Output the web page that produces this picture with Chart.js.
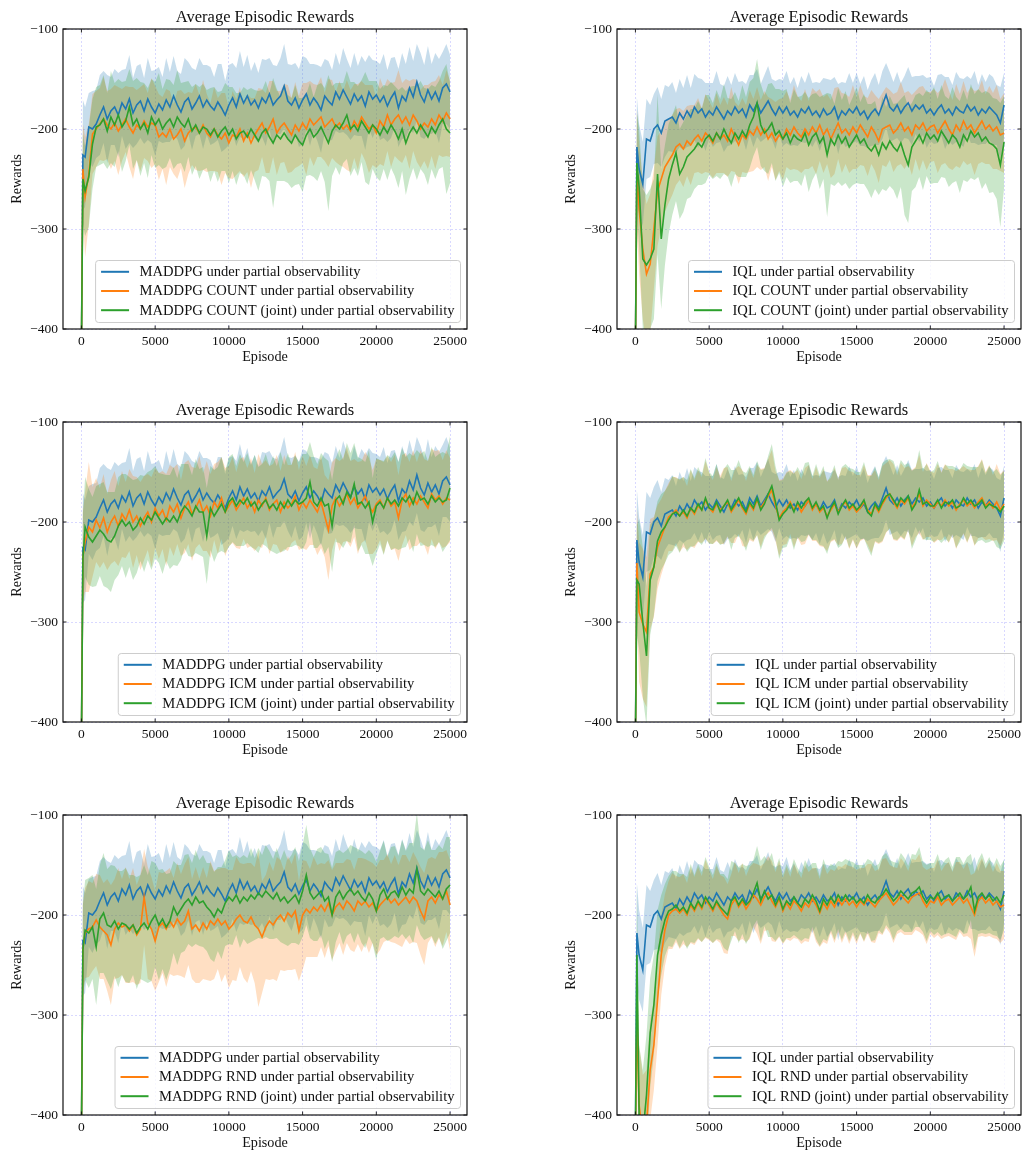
<!DOCTYPE html>
<html><head><meta charset="utf-8">
<script src="https://cdn.jsdelivr.net/npm/chart.js@4.4.1/dist/chart.umd.min.js"></script>
<style>
html,body{margin:0;padding:0;background:#fff;width:1023px;height:1151px;overflow:hidden;position:relative}
</style></head><body>
<script>
// ---------------- DATA ----------------
const EPISODES = [0,100,
 250,500,750,1000,1250,1500,1750,2000,2250,2500,2750,3000,3250,3500,3750,4000,4250,4500,4750,5000,
 5250,5500,5750,6000,6250,6500,6750,7000,7250,7500,7750,8000,8250,8500,8750,9000,9250,9500,9750,10000,
 10250,10500,10750,11000,11250,11500,11750,12000,12250,12500,12750,13000,13250,13500,13750,14000,14250,14500,14750,15000,
 15250,15500,15750,16000,16250,16500,16750,17000,17250,17500,17750,18000,18250,18500,18750,19000,19250,19500,19750,20000,
 20250,20500,20750,21000,21250,21500,21750,22000,22250,22500,22750,23000,23250,23500,23750,24000,24250,24500,24750,25000];
const X_TICKS = [0,5000,10000,15000,20000,25000];
const Y_TICKS = [-400,-300,-200,-100];
const CHART_TITLE = 'Average Episodic Rewards';
const X_LABEL = 'Episode';
const Y_LABEL = 'Rewards';

// MADDPG baseline (same in left panels)
const MADDPG = [-420,-226,
 -228,-198,-200,-195, -186,-178,-190,-182, -178,-186,-174,-180, -170,-184,-176,-172, -182,-170,-178,-184,
 -175,-181,-171,-178, -167,-176,-183,-173, -169,-180,-174,-167, -178,-171,-177,-181, -173,-179,-186,-176,
 -169,-178,-165,-174, -167,-176,-171,-179, -169,-174,-165,-176, -171,-167,-157,-172, -176,-169,-179,-171,
 -165,-176,-169,-174, -181,-167,-172,-176, -163,-170,-161,-168, -175,-165,-172,-167, -177,-163,-170,-166,
 -173,-167,-177,-169, -163,-179,-167,-172, -159,-168,-153,-166, -173,-161,-170,-163, -172,-159,-155,-163];
const MADDPG_SD = [15,55,
 50,34,38,34, 40,36,44,34, 38,42,33,40, 44,35,39,37, 33,41,36,43,
 37,33,42,35, 40,34,38,44, 36,41,33,38, 42,35,39,33, 38,44,34,40,
 35,39,43,36, 41,34,38,35, 39,43,36,40, 34,38,42,37, 40,35,39,44,
 36,41,34,38, 43,37,40,35, 39,34,42,38, 36,41,35,40, 44,37,39,34,
 38,42,36,40, 35,39,43,37, 41,36,38,42, 37,44,35,39, 42,36,40,37];

const MADDPG_COUNT = [-420,-240,
 -268,-245,-205,-200, -195,-190,-196,-200, -194,-202,-196,-190, -198,-204,-196,-200, -192,-198,-194,-196,
 -208,-204,-208,-200, -210,-206,-200,-212, -204,-200,-198,-204, -196,-204,-208,-200, -206,-210,-204,-214,
 -206,-208,-200,-212, -204,-214,-206,-200, -194,-204,-198,-190, -204,-198,-194,-200, -206,-196,-202,-194,
 -200,-190,-196,-192, -188,-198,-194,-190, -198,-194,-200,-196, -202,-192,-198,-188, -194,-200,-196,-204,
 -192,-198,-186,-196, -190,-186,-194,-188, -196,-186,-192,-200, -194,-198,-190,-196, -186,-192,-184,-190];
const MADDPG_COUNT_SD = [15,45,
 60,50,40,38, 36,42,34,40, 38,44,36,33, 40,46,35,42, 37,34,45,39,
 43,36,48,38, 35,44,39,47, 41,36,43,38, 45,39,34,42, 37,46,40,35,
 44,38,42,36, 39,45,37,41, 34,40,46,38, 42,36,39,44, 37,43,35,40,
 46,38,41,36, 40,34,44,39, 35,42,38,45, 41,37,43,36, 38,44,40,35,
 43,39,36,42, 37,45,40,38, 44,36,41,39, 38,42,37,44, 40,36,43,38];

const MADDPG_COUNT_J = [-420,-250,
 -262,-248,-215,-198, -196,-190,-202,-188, -196,-186,-198,-192, -178,-196,-190,-200, -194,-204,-188,-196,
 -190,-200,-194,-190, -198,-188,-194,-198, -190,-202,-196,-204, -198,-200,-206,-200, -208,-202,-198,-206,
 -200,-210,-204,-202, -208,-200,-206,-212, -204,-200,-208,-214, -206,-210,-204,-210, -214,-206,-212,-216,
 -206,-200,-208,-204, -198,-206,-214,-202, -196,-200,-194,-186, -200,-196,-202,-192, -198,-204,-196,-200,
 -206,-198,-204,-196, -202,-210,-200,-214, -204,-198,-204,-196, -202,-208,-198,-204, -196,-190,-200,-204];
const MADDPG_COUNT_J_SD = [15,45,
 45,50,45,40, 40,44,38,46, 42,36,45,40, 38,44,41,47, 40,45,38,43,
 46,40,44,39, 42,47,40,45, 38,44,41,46, 43,39,47,42, 45,40,44,48,
 42,46,40,44, 47,41,45,50, 43,48,44,65, 46,42,48,44, 45,50,43,47,
 41,46,40,48, 44,47,68,45, 42,46,40,44, 47,43,45,41, 55,52,44,48,
 46,42,47,43, 45,49,42,52, 46,41,47,44, 43,48,42,46, 44,48,65,50];

// IQL baseline (same in right panels)
const IQL = [-420,-218,
 -240,-255,-210,-212, -200,-196,-204,-192, -190,-188,-194,-184, -190,-182,-188,-178, -184,-180,-188,-182,
 -186,-178,-184,-190, -182,-186,-178,-184, -180,-188,-176,-182, -174,-184,-178,-172, -180,-186,-178,-184,
 -178,-186,-182,-188, -180,-184,-178,-186, -182,-188,-180,-186, -184,-178,-190,-182, -186,-180,-184,-178,
 -186,-182,-190,-184, -180,-186,-176,-166, -178,-182,-176,-184, -178,-174,-182,-176, -180,-176,-184,-180,
 -186,-180,-176,-184, -180,-186,-178,-182, -184,-176,-182,-178, -186,-180,-184,-178, -182,-186,-194,-176];
const IQL_SD = [15,50,
 45,42,40,36, 35,38,34,36, 32,35,30,34, 31,36,29,33, 35,30,34,28,
 32,36,29,33, 35,30,34,31, 28,33,30,36, 34,29,32,35, 30,34,28,33,
 36,31,34,29, 33,30,35,32, 29,34,31,36, 33,30,35,29, 32,36,30,34,
 31,35,29,33, 36,30,34,32, 35,29,33,30, 31,36,34,29, 33,30,35,32,
 29,34,31,36, 32,30,35,33, 34,29,32,36, 30,35,31,33, 34,30,36,32];

const IQL_COUNT = [-420,-240,
 -280,-320,-345,-335, -300,-262,-250,-238, -232,-226,-218,-215, -220,-212,-216,-210, -206,-212,-204,-208,
 -214,-204,-210,-206, -212,-200,-208,-216, -206,-210,-202,-206, -198,-206,-200,-210, -204,-212,-206,-210,
 -200,-206,-198,-204, -208,-200,-206,-198, -204,-196,-206,-200, -210,-202,-194,-204, -200,-206,-198,-204,
 -196,-202,-208,-198, -204,-212,-200,-198, -196,-204,-200,-194, -202,-198,-206,-196, -200,-194,-202,-198,
 -196,-204,-198,-192, -200,-206,-196,-202, -192,-200,-196,-204, -198,-192,-200,-196, -202,-198,-206,-204];
const IQL_COUNT_SD = [20,60,
 65,70,70,70, 60,55,48,45, 42,40,38,36, 38,35,40,34, 37,33,39,36,
 35,40,34,38, 36,42,35,39, 37,34,41,36, 40,35,38,42, 34,39,36,41,
 38,35,42,37, 36,40,34,39, 41,36,38,35, 39,43,36,40, 35,38,42,36,
 40,35,39,37, 38,42,36,40, 35,39,37,41, 38,36,40,34, 42,37,39,35,
 36,40,38,42, 39,35,41,37, 40,36,38,42, 37,41,35,39, 38,42,36,40];

const IQL_COUNT_J = [-420,-234,
 -258,-330,-336,-330, -320,-245,-310,-276, -250,-236,-224,-245, -238,-228,-224,-220, -214,-218,-210,-206,
 -212,-204,-210,-200, -208,-214,-204,-210, -202,-208,-196,-188, -174,-196,-204,-200, -194,-206,-202,-210,
 -204,-214,-206,-210, -212,-204,-216,-208, -204,-214,-208,-226, -210,-216,-206,-214, -208,-218,-212,-206,
 -214,-210,-218,-222, -216,-226,-214,-220, -212,-218,-222,-214, -226,-236,-218,-212, -206,-214,-204,-210,
 -206,-212,-202,-208, -214,-206,-210,-218, -206,-212,-202,-208, -204,-212,-208,-214, -216,-220,-236,-213];
const IQL_COUNT_J_SD = [20,50,
 60,70,70,70, 70,80,70,60, 55,50,48,45, 45,42,44,40, 42,38,44,40,
 38,43,40,45, 39,44,41,38, 46,40,43,39, 44,41,38,45, 40,46,42,48,
 44,40,46,42, 45,41,47,43, 40,46,42,62, 45,41,47,43, 46,42,44,48,
 41,45,43,47, 44,40,46,42, 45,43,48,44, 60,58,44,46, 42,47,43,45,
 48,42,46,41, 44,48,42,46, 45,41,47,43, 44,48,46,50, 47,50,62,46];

const MADDPG_ICM = [-420,-235,
 -220,-205,-210,-198, -206,-196,-210,-200, -194,-204,-192,-198, -188,-200,-194,-204, -196,-190,-200,-186,
 -194,-188,-198,-184, -190,-182,-196,-186, -180,-192,-186,-178, -190,-184,-194,-180, -186,-176,-190,-184,
 -178,-188,-182,-176, -186,-180,-190,-178, -184,-176,-188,-182, -178,-190,-180,-186, -182,-174,-188,-180,
 -186,-178,-184,-190, -180,-194,-208,-184, -176,-184,-178,-172, -182,-176,-186,-180, -174,-184,-190,-182,
 -178,-186,-176,-184, -180,-196,-178,-172, -184,-176,-182,-174, -180,-186,-172,-178, -174,-182,-176,-178];
const MADDPG_ICM_SD = [15,45,
 50,65,45,42, 40,44,38,42, 45,40,43,38, 41,46,39,44, 42,38,45,40,
 43,39,46,41, 44,40,38,45, 42,47,40,44, 39,45,42,38, 46,41,44,40,
 43,38,45,41, 40,44,39,46, 42,38,44,40, 45,41,47,43, 39,44,40,46,
 42,45,39,43, 46,41,50,44, 40,45,42,47, 43,39,46,41, 44,48,42,45,
 40,46,42,44, 47,43,45,41, 44,48,42,46, 43,47,45,49, 46,44,48,42];

const MADDPG_ICM_J = [-420,-237,
 -205,-215,-220,-214, -208,-212,-218,-220, -214,-204,-198,-204, -200,-208,-204,-196, -202,-194,-198,-190,
 -196,-202,-196,-200, -194,-200,-190,-184, -188,-194,-184,-190, -190,-214,-186,-194, -188,-182,-190,-180,
 -176,-184,-178,-182, -176,-184,-180,-188, -182,-178,-186,-182, -188,-180,-186,-178, -184,-178,-182,-180,
 -176,-160,-180,-184, -176,-184,-182,-204, -178,-174,-182,-170, -176,-162,-182,-180, -186,-180,-200,-184,
 -180,-186,-176,-182, -178,-184,-176,-180, -174,-182,-170,-178, -176,-182,-174,-180, -176,-180,-178,-166];
const MADDPG_ICM_J_SD = [15,45,
 50,48,45,50, 46,52,48,50, 44,49,46,52, 45,50,47,43, 48,44,50,46,
 45,50,43,47, 49,44,48,42, 46,41,47,43, 45,48,42,46, 43,47,41,45,
 44,40,46,42, 45,41,47,43, 40,46,42,48, 44,50,43,47, 41,45,42,48,
 44,40,46,42, 45,48,43,46, 42,47,44,49, 45,41,47,43, 46,52,44,48,
 42,47,43,46, 48,44,50,45, 43,48,42,46, 47,43,49,45, 44,50,46,52];

const IQL_ICM = [-420,-241,
 -290,-302,-310,-252, -245,-225,-215,-205, -195,-192,-188,-194, -190,-196,-186,-192, -184,-188,-178,-186,
 -190,-182,-188,-184, -180,-190,-184,-178, -186,-192,-182,-188, -178,-186,-180,-174, -168,-184,-196,-190,
 -186,-180,-188,-182, -190,-184,-178,-188, -182,-190,-186,-194, -188,-182,-190,-184, -180,-188,-184,-190,
 -186,-180,-188,-192, -184,-190,-182,-176, -172,-180,-186,-178, -182,-176,-186,-180, -172,-184,-178,-182,
 -186,-180,-184,-178, -184,-180,-188,-182, -178,-184,-180,-186, -180,-176,-184,-180, -186,-180,-188,-182];
const IQL_ICM_SD = [20,55,
 70,75,75,55, 50,42,38,36, 34,37,33,36, 35,32,38,34, 36,33,39,35,
 32,37,34,38, 35,31,37,34, 38,33,36,32, 35,39,34,37, 40,35,38,33,
 36,32,37,34, 33,38,35,31, 37,34,39,35, 32,36,33,38, 35,39,34,37,
 33,37,35,39, 36,32,38,35, 34,38,33,37, 36,32,38,35, 39,34,37,33,
 35,38,34,36, 37,33,39,35, 34,37,32,38, 36,39,34,37, 33,38,36,34];

const IQL_ICM_J = [-420,-258,
 -262,-300,-334,-258, -245,-219,-210,-205, -198,-192,-190,-194, -188,-194,-186,-190, -182,-188,-176,-186,
 -188,-180,-190,-184, -178,-188,-182,-176, -184,-190,-180,-186, -176,-188,-182,-172, -164,-180,-198,-192,
 -188,-182,-190,-180, -186,-180,-176,-186, -180,-188,-184,-196, -186,-180,-192,-184, -178,-186,-182,-188,
 -184,-178,-190,-194, -182,-188,-180,-174, -172,-178,-184,-176, -180,-174,-188,-182, -168,-182,-180,-184,
 -184,-178,-186,-180, -182,-178,-186,-184, -176,-182,-178,-184, -182,-178,-186,-182, -184,-186,-190,-184];
const IQL_ICM_J_SD = [20,55,
 65,75,70,55, 48,40,38,36, 35,38,34,37, 33,36,39,34, 37,35,40,36,
 34,38,33,37, 36,40,34,38, 35,39,36,33, 37,40,35,38, 42,36,39,34,
 37,33,38,35, 34,39,36,32, 38,35,40,36, 33,37,34,39, 36,40,35,38,
 34,38,36,40, 37,33,39,36, 35,39,34,38, 37,33,39,36, 40,35,38,34,
 36,39,35,37, 38,34,40,36, 35,38,33,39, 37,40,35,38, 34,39,37,35];

const MADDPG_RND = [-420,-234,
 -218,-214,-212,-205, -212,-216,-220,-230, -214,-208,-212,-210, -216,-210,-220,-214, -182,-208,-214,-226,
 -212,-208,-214,-206, -212,-204,-210,-206, -196,-214,-210,-216, -208,-214,-206,-210, -204,-210,-206,-214,
 -210,-204,-200,-206, -208,-202,-210,-214, -222,-212,-206,-210, -204,-200,-206,-198, -202,-196,-216,-200,
 -194,-198,-192,-196, -190,-196,-188,-200, -192,-188,-194,-186, -190,-196,-186,-190, -186,-192,-188,-196,
 -190,-186,-182,-188, -184,-190,-186,-182, -188,-182,-186,-196, -204,-186,-182,-188, -180,-184,-176,-190];
const MADDPG_RND_SD = [15,45,
 45,48,44,46, 52,48,56,60, 50,55,48,58, 52,57,50,54, 48,56,52,50,
 55,50,58,53, 49,56,51,57, 54,50,58,52, 56,51,60,54, 50,57,53,59,
 55,62,52,57, 60,54,58,78, 56,52,59,54, 62,55,50,57, 53,58,50,55,
 48,44,50,46, 42,47,43,45, 44,40,46,42, 45,41,43,47, 42,46,40,44,
 45,41,43,39, 44,40,46,42, 41,45,42,44, 46,42,40,44, 43,47,41,45];

const MADDPG_RND_J = [-420,-235,
 -215,-218,-212,-232, -204,-198,-210,-212, -206,-214,-208,-210, -214,-210,-218,-212, -208,-214,-206,-200,
 -210,-204,-212,-206, -192,-200,-194,-188, -184,-190,-182,-188, -186,-192,-196,-202, -194,-198,-188,-182,
 -186,-180,-188,-182, -186,-180,-184,-178, -182,-176,-180,-184, -178,-186,-182,-188, -184,-180,-188,-176,
 -160,-178,-184,-180, -176,-186,-182,-200, -182,-176,-184,-178, -174,-180,-176,-182, -186,-178,-184,-196,
 -180,-174,-184,-178, -176,-182,-172,-180, -174,-178,-154,-176, -180,-174,-178,-182, -176,-184,-174,-170];
const MADDPG_RND_J_SD = [15,45,
 50,55,52,58, 54,60,56,62, 55,58,52,57, 54,50,56,52, 58,54,60,52,
 55,50,53,48, 46,50,44,48, 45,42,47,43, 46,44,48,45, 42,46,43,47,
 44,40,45,42, 43,47,41,45, 42,46,44,40, 45,41,47,43, 44,48,42,46,
 50,45,42,46, 44,48,43,47, 45,41,46,43, 44,48,42,46, 47,43,45,49,
 44,48,42,46, 45,41,47,44, 46,50,56,44, 45,49,43,47, 46,50,52,48];

const IQL_RND = [-420,-305,
 -390,-420,-410,-355, -330,-285,-240,-215, -200,-196,-194,-198, -194,-200,-190,-196, -188,-194,-184,-190,
 -196,-188,-194,-200, -204,-190,-184,-192, -186,-194,-188,-180, -184,-190,-182,-178, -186,-192,-184,-196,
 -188,-194,-186,-190, -196,-188,-192,-184, -190,-198,-188,-194, -186,-192,-184,-190, -184,-190,-186,-192,
 -186,-190,-184,-188, -192,-186,-182,-178, -184,-190,-186,-180, -184,-188,-182,-180, -178,-186,-192,-186,
 -188,-182,-190,-186, -184,-190,-186,-182, -188,-184,-192,-200, -186,-182,-188,-184, -190,-186,-192,-190];
const IQL_RND_SD = [20,60,
 60,60,55,50, 45,45,40,36, 34,38,33,36, 35,32,38,34, 36,33,39,35,
 32,37,34,38, 35,31,37,34, 38,33,36,32, 35,39,34,37, 40,35,38,33,
 36,32,37,34, 33,38,35,31, 37,34,39,35, 32,36,33,38, 35,39,34,37,
 33,37,35,39, 36,32,38,35, 34,38,33,37, 36,32,38,35, 39,34,37,33,
 35,38,34,36, 37,33,39,35, 34,37,32,42, 36,39,34,37, 33,38,36,34];

const IQL_RND_J = [-420,-240,
 -400,-420,-380,-318, -290,-240,-220,-205, -196,-194,-190,-196, -192,-198,-188,-194, -186,-192,-182,-188,
 -194,-186,-192,-196, -200,-186,-182,-190, -184,-190,-186,-178, -168,-186,-176,-184, -180,-190,-182,-194,
 -186,-190,-182,-188, -192,-184,-188,-180, -186,-196,-184,-190, -182,-188,-180,-186, -180,-186,-182,-188,
 -184,-188,-180,-186, -188,-182,-180,-174, -180,-186,-182,-176, -180,-184,-178,-176, -172,-182,-188,-182,
 -184,-178,-186,-182, -180,-186,-182,-178, -184,-180,-172,-196, -182,-178,-184,-180, -186,-182,-188,-180];
const IQL_RND_J_SD = [20,70,
 70,65,60,55, 50,45,40,36, 35,38,34,37, 33,36,39,34, 37,35,40,36,
 34,38,33,37, 36,40,34,38, 35,39,36,33, 37,40,35,38, 42,36,39,34,
 37,33,38,35, 34,39,36,32, 38,35,40,36, 33,37,34,39, 36,40,35,38,
 34,38,36,40, 37,33,39,36, 35,39,34,38, 37,33,39,36, 40,35,38,34,
 36,39,35,37, 38,34,40,36, 35,38,33,39, 37,40,35,38, 34,39,37,35];

const LABELS_MADDPG_COUNT = ['MADDPG under partial observability','MADDPG COUNT under partial observability','MADDPG COUNT (joint) under partial observability'];
const LABELS_IQL_COUNT = ['IQL under partial observability','IQL COUNT under partial observability','IQL COUNT (joint) under partial observability'];
const LABELS_MADDPG_ICM = ['MADDPG under partial observability','MADDPG ICM under partial observability','MADDPG ICM (joint) under partial observability'];
const LABELS_IQL_ICM = ['IQL under partial observability','IQL ICM under partial observability','IQL ICM (joint) under partial observability'];
const LABELS_MADDPG_RND = ['MADDPG under partial observability','MADDPG RND under partial observability','MADDPG RND (joint) under partial observability'];
const LABELS_IQL_RND = ['IQL under partial observability','IQL RND under partial observability','IQL RND (joint) under partial observability'];

// ---------------- RENDER ----------------
const COLORS = ['#1f77b4','#ff7f0e','#2ca02c'];
const BANDS = ['rgba(31,119,180,0.25)','rgba(255,127,14,0.25)','rgba(44,160,44,0.25)'];
const FONT = "'Liberation Serif','Times New Roman',serif";
const GRID = 'rgba(110,110,255,0.32)';

const PANELS = [
  {col:0,row:0,labels:LABELS_MADDPG_COUNT,series:[[MADDPG,MADDPG_SD],[MADDPG_COUNT,MADDPG_COUNT_SD],[MADDPG_COUNT_J,MADDPG_COUNT_J_SD]]},
  {col:1,row:0,labels:LABELS_IQL_COUNT,series:[[IQL,IQL_SD],[IQL_COUNT,IQL_COUNT_SD],[IQL_COUNT_J,IQL_COUNT_J_SD]]},
  {col:0,row:1,labels:LABELS_MADDPG_ICM,series:[[MADDPG,MADDPG_SD],[MADDPG_ICM,MADDPG_ICM_SD],[MADDPG_ICM_J,MADDPG_ICM_J_SD]]},
  {col:1,row:1,labels:LABELS_IQL_ICM,series:[[IQL,IQL_SD],[IQL_ICM,IQL_ICM_SD],[IQL_ICM_J,IQL_ICM_J_SD]]},
  {col:0,row:2,labels:LABELS_MADDPG_RND,series:[[MADDPG,MADDPG_SD],[MADDPG_RND,MADDPG_RND_SD],[MADDPG_RND_J,MADDPG_RND_J_SD]]},
  {col:1,row:2,labels:LABELS_IQL_RND,series:[[IQL,IQL_SD],[IQL_RND,IQL_RND_SD],[IQL_RND_J,IQL_RND_J_SD]]}
];
const COL_L = [63,617], ROW_T = [29,422,815], PW = 404, PH = 300;
const PAD_L = 63, PAD_T = 29, PAD_R = 8, PAD_B = 38;

const fmt = v => v < 0 ? '\u2212' + Math.abs(v) : String(v);

function rrect(ctx,x,y,w,h,r){
  ctx.beginPath();
  ctx.moveTo(x+r,y); ctx.lineTo(x+w-r,y); ctx.arcTo(x+w,y,x+w,y+r,r);
  ctx.lineTo(x+w,y+h-r); ctx.arcTo(x+w,y+h,x+w-r,y+h,r);
  ctx.lineTo(x+r,y+h); ctx.arcTo(x,y+h,x,y+h-r,r);
  ctx.lineTo(x,y+r); ctx.arcTo(x,y,x+r,y,r); ctx.closePath();
}

const deco = {
  id:'deco',
  afterDatasetsDraw(chart,args,opts){
    const {ctx, chartArea:a, scales:{x,y}} = chart;
    ctx.save();
    ctx.strokeStyle = '#111'; ctx.lineWidth = 0.9;
    ctx.beginPath();
    const tl = 3.5;
    x.ticks.forEach(t=>{const px=x.getPixelForValue(t.value);
      ctx.moveTo(px,a.bottom); ctx.lineTo(px,a.bottom-tl); ctx.moveTo(px,a.top); ctx.lineTo(px,a.top+tl);});
    y.ticks.forEach(t=>{const py=y.getPixelForValue(t.value);
      ctx.moveTo(a.left,py); ctx.lineTo(a.left+tl,py); ctx.moveTo(a.right,py); ctx.lineTo(a.right-tl,py);});
    ctx.stroke();
    ctx.lineWidth = 1.2;
    ctx.strokeRect(a.left,a.top,a.right-a.left,a.bottom-a.top);
    ctx.fillStyle = '#111'; ctx.font = '16.5px ' + FONT; ctx.textAlign='center'; ctx.textBaseline='middle';
    ctx.fillText(opts.title,(a.left+a.right)/2,a.top-11);
    ctx.restore();
  },
  afterDraw(chart,args,opts){
    const {ctx, chartArea:a} = chart;
    ctx.save();
    ctx.font = '14.6px ' + FONT;
    const tw = Math.max(...opts.labels.map(l=>ctx.measureText(l).width));
    const bw = 5.5+28+10.5+tw+6, bh = 62;
    const bx = a.right-6.5-bw, by = a.bottom-6.5-bh;
    rrect(ctx,bx,by,bw,bh,3);
    ctx.fillStyle='rgba(255,255,255,0.8)'; ctx.fill();
    ctx.strokeStyle='rgba(200,200,200,0.9)'; ctx.lineWidth=1; ctx.stroke();
    opts.labels.forEach((l,i)=>{
      const cy = by+11.3+i*19.2;
      ctx.strokeStyle = COLORS[i]; ctx.lineWidth = 2;
      ctx.beginPath(); ctx.moveTo(bx+5.5,cy); ctx.lineTo(bx+33.5,cy); ctx.stroke();
      ctx.fillStyle='#111'; ctx.textAlign='left'; ctx.textBaseline='middle';
      ctx.fillText(l,bx+44,cy+0.5);
    });
    ctx.restore();
  }
};

PANELS.forEach(p=>{
  const L = COL_L[p.col], T = ROW_T[p.row];
  const W = PAD_L+PW+PAD_R, H = PAD_T+PH+PAD_B;
  const cv = document.createElement('canvas');
  cv.width = W; cv.height = H;
  cv.style.cssText = `position:absolute;left:${L-PAD_L}px;top:${T-PAD_T}px;width:${W}px;height:${H}px`;
  document.body.appendChild(cv);
  const datasets = [];
  for (let s=2;s>=0;s--){
    const [m] = p.series[s];
    datasets.push({data:EPISODES.map((e,i)=>({x:e,y:m[i]})),borderColor:COLORS[s],borderWidth:1.6,pointRadius:0,fill:false,tension:0});
  }
  for (let s=2;s>=0;s--){
    const [m,sd] = p.series[s];
    const lo = datasets.length;
    datasets.push({data:EPISODES.map((e,i)=>({x:e,y:m[i]-sd[i]})),borderColor:'rgba(0,0,0,0)',borderWidth:0,pointRadius:0,fill:false});
    datasets.push({data:EPISODES.map((e,i)=>({x:e,y:m[i]+sd[i]})),borderColor:'rgba(0,0,0,0)',borderWidth:0,pointRadius:0,fill:lo,backgroundColor:BANDS[s]});
  }
  new Chart(cv,{
    type:'line',
    data:{datasets},
    plugins:[deco],
    options:{
      responsive:false, animation:false, devicePixelRatio:1,
      layout:{padding:{left:0,top:PAD_T,right:PAD_R,bottom:0}},
      events:[],
      plugins:{legend:{display:false},tooltip:{enabled:false},filler:{drawTime:'beforeDatasetsDraw'},
        deco:{title:CHART_TITLE,labels:p.labels}},
      scales:{
        x:{type:'linear',min:-1250,max:26150,
          afterBuildTicks:s=>{s.ticks=X_TICKS.map(v=>({value:v}));},
          afterFit:s=>{s.height=PAD_B;},
          grid:{color:GRID,lineWidth:0.8,drawTicks:false},
          border:{display:false,dash:[2,2]},
          ticks:{padding:4,autoSkip:false,maxRotation:0,color:'#111',font:{family:FONT,size:13.5},callback:v=>fmt(v)},
          title:{display:true,text:X_LABEL,color:'#111',font:{family:FONT,size:14.2,lineHeight:1.2},padding:{top:0,bottom:1.5}}},
        y:{type:'linear',min:-400,max:-100,
          afterBuildTicks:s=>{s.ticks=Y_TICKS.map(v=>({value:v}));},
          afterFit:s=>{s.width=PAD_L;},
          grid:{color:GRID,lineWidth:0.8,drawTicks:false},
          border:{display:false,dash:[2,2]},
          ticks:{padding:5,color:'#111',font:{family:FONT,size:13.5},callback:v=>fmt(v)},
          title:{display:true,text:Y_LABEL,color:'#111',font:{family:FONT,size:14.2,lineHeight:1.2},padding:{top:9,bottom:0}}}
      }
    }
  });
});
</script>
</body></html>
